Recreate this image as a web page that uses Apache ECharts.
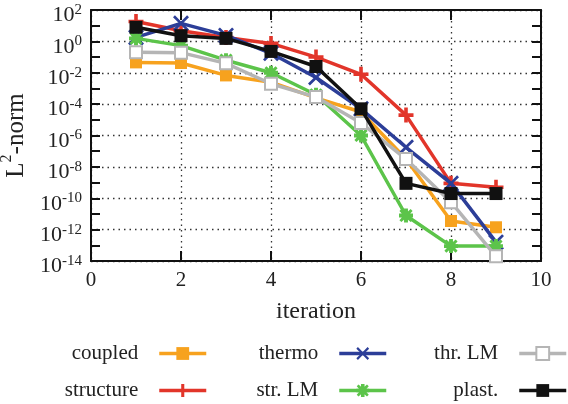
<!DOCTYPE html>
<html><head><meta charset="utf-8">
<script src="https://cdn.jsdelivr.net/npm/echarts@6/dist/echarts.min.js"></script>
<style>html,body{margin:0;padding:0;background:#fff}#c{width:568px;height:404px}</style>
</head><body><div id="c"></div>
<script>
// iterations
var iterations = [1, 2, 3, 4, 5, 6, 7, 8, 9];
// log10 of the L2-norm
var coupled   = [-1.34, -1.38, -2.17, -2.6, -3.6, -4.5, -7.5, -11.45, -11.85];
var structure = [1.27, 0.68, 0.25, -0.13, -1.0, -2.1, -4.7, -9.05, -9.3];
var thermo    = [0.25, 1.15, 0.38, -0.76, -2.3, -4.3, -6.75, -9.05, -12.8];
var strLM     = [0.19, -0.27, -1.2, -2.0, -3.4, -6.0, -11.1, -13.05, -13.05];
var thrLM     = [-0.7, -0.72, -1.4, -2.7, -3.55, -5.2, -7.5, -10.25, -13.7];
var plast     = [0.9, 0.36, 0.19, -0.64, -1.6, -4.3, -9.05, -9.7, -9.7];
var seriesNames = ['coupled', 'structure', 'thermo', 'str. LM', 'thr. LM', 'plast.'];
var xTicks = [0, 2, 4, 6, 8, 10];
var yExpTicks = [2, 0, -2, -4, -6, -8, -10, -12, -14];

var FONT = '"Liberation Serif", "DejaVu Serif", serif';
var plusPath = 'path://M3.8,0 H6.2 V3.8 H10 V6.2 H6.2 V10 H3.8 V6.2 H0 V3.8 H3.8 Z';
var xPath = 'path://M0,1.2 L1.2,0 L5,3.8 L8.8,0 L10,1.2 L6.2,5 L10,8.8 L8.8,10 L5,6.2 L1.2,10 L0,8.8 L3.8,5 Z';
var starPath = 'path://M3.6,0 H6.4 V3.6 H10 V6.4 H6.4 V10 H3.6 V6.4 H0 V3.6 H3.6 Z M0.3,1.7 L1.7,0.3 L5,3.3 L8.3,0.3 L9.7,1.7 L6.7,5 L9.7,8.3 L8.3,9.7 L5,6.7 L1.7,9.7 L0.3,8.3 L3.3,5 Z';

function pts(arr) { return iterations.map(function (x, i) { return [x, arr[i]]; }); }

var styles = [
  { data: coupled,   color: '#f7a21e', symbol: 'rect', size: 12 },
  { data: structure, color: '#e2352a', symbol: plusPath, size: 15 },
  { data: thermo,    color: '#2c3e98', symbol: xPath, size: 16 },
  { data: strLM,     color: '#5cc44a', symbol: starPath, size: 14 },
  { data: thrLM,     color: '#b5b5b5', symbol: 'emptyRect', size: 12 },
  { data: plast,     color: '#111111', symbol: 'rect', size: 13 }
];

var series = styles.map(function (s, i) {
  return {
    name: seriesNames[i], type: 'line', data: pts(s.data),
    symbol: s.symbol, symbolSize: s.size, showSymbol: true,
    lineStyle: { color: s.color, width: 3.5 },
    itemStyle: { color: s.color, borderColor: s.color, borderWidth: s.symbol === 'emptyRect' ? 3 : 0 },
    emphasis: { disabled: true }, animation: false, z: 2 + i
  };
});

var legendPos = [
  { right: 360, top: 343 }, { right: 360, top: 380 },
  { right: 180, top: 343 }, { right: 180, top: 380 },
  { right: 0, top: 343 },   { right: 0, top: 380 }
];
var legends = seriesNames.map(function (name, i) {
  return {
    data: [name], orient: 'horizontal', align: 'right',
    right: legendPos[i].right, top: legendPos[i].top, padding: 0,
    itemWidth: 47, itemHeight: 16, selectedMode: false,
    lineStyle: { width: 3.5 },
    textStyle: { fontFamily: FONT, fontSize: 21, color: '#222', padding: [0, 16, 0, 0] }
  };
});

var axisLine = { show: true, onZero: false, lineStyle: { color: '#111', width: 2 } };
var dotted = { show: true, lineStyle: { color: '#333', width: 1.3, type: [1.5, 4] } };

var option = {
  backgroundColor: '#fff',
  animation: false,
  legend: legends,
  grid: { left: 91, right: 27, top: 10, bottom: 143, containLabel: false, outerBoundsMode: 'none' },
  xAxis: [{
    type: 'value', min: 0, max: 10, interval: 2,
    name: 'iteration', nameLocation: 'middle', nameGap: 39,
    nameTextStyle: { fontFamily: FONT, fontSize: 24, color: '#222' },
    axisLine: axisLine,
    axisTick: { show: true, inside: true, length: 10, lineStyle: { color: '#111', width: 2 } },
    axisLabel: { fontFamily: FONT, fontSize: 21, color: '#222', margin: 9,
      formatter: function (v) { return xTicks.indexOf(v) >= 0 ? String(v) : ''; } },
    splitLine: dotted
  }, {
    type: 'value', min: 0, max: 10, interval: 2, position: 'top',
    axisLine: axisLine,
    axisTick: { show: true, inside: true, length: 10, lineStyle: { color: '#111', width: 2 } },
    axisLabel: { show: false }, splitLine: { show: false }
  }],
  yAxis: [{
    type: 'value', min: -14, max: 2, interval: 2,
    name: '{a|L}{s|2}{a|-norm}', nameLocation: 'middle', nameGap: 61,
    nameTextStyle: { rich: {
      a: { fontFamily: FONT, fontSize: 25, color: '#222', lineHeight: 30, verticalAlign: 'bottom' },
      s: { fontFamily: FONT, fontSize: 16, color: '#222', lineHeight: 30, verticalAlign: 'top' }
    } },
    axisLine: axisLine,
    axisTick: { show: true, inside: true, length: 9, lineStyle: { color: '#111', width: 2 } },
    minorTick: { show: true, splitNumber: 2, length: 9, lineStyle: { color: '#111', width: 2 } },
    axisLabel: { margin: 9, padding: [9, 0, 0, 0], formatter: function (v) {
        return yExpTicks.indexOf(v) >= 0 ? '{b|10}{s|' + v + '}' : ''; },
      rich: {
        b: { fontFamily: FONT, fontSize: 22, color: '#222', lineHeight: 24, verticalAlign: 'bottom' },
        s: { fontFamily: FONT, fontSize: 15, color: '#222', lineHeight: 24, verticalAlign: 'top' }
      } },
    splitLine: dotted
  }, {
    type: 'value', min: -14, max: 2, interval: 2, position: 'right',
    axisLine: axisLine,
    axisTick: { show: true, inside: true, length: 9, lineStyle: { color: '#111', width: 2 } },
    minorTick: { show: true, splitNumber: 2, length: 9, lineStyle: { color: '#111', width: 2 } },
    axisLabel: { show: false }, splitLine: { show: false }
  }],
  series: series
};

var chart = echarts.init(document.getElementById('c'), null, { renderer: 'canvas' });
chart.setOption(option);
</script></body></html>
